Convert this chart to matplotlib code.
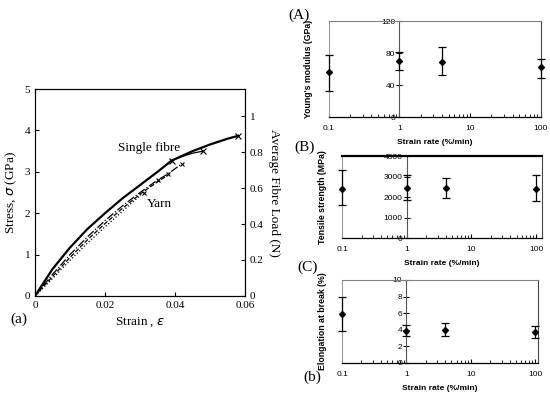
import matplotlib.pyplot as plt
import matplotlib.ticker as mticker

# ---- datos panel (a): esfuerzo-deformacion ----
fibra_strain = [0, 0.005, 0.01, 0.015, 0.02, 0.025, 0.03, 0.035, 0.039, 0.045, 0.05, 0.055, 0.058]
fibra_stress = [0, 0.65, 1.17, 1.62, 2.0, 2.36, 2.68, 3.0, 3.27, 3.5, 3.66, 3.8, 3.87]
rama_strain = [0.039, 0.042, 0.045, 0.048]
rama_stress = [3.27, 3.37, 3.45, 3.5]
hilo1_strain = [0, 0.005, 0.01, 0.015, 0.02, 0.025, 0.03, 0.035, 0.038, 0.042]
hilo1_stress = [0, 0.52, 1.0, 1.43, 1.82, 2.18, 2.5, 2.8, 2.95, 3.2]
hilo2_strain = [0, 0.005, 0.01, 0.015, 0.02, 0.025, 0.03, 0.035, 0.038]
hilo2_stress = [0, 0.47, 0.93, 1.36, 1.75, 2.12, 2.46, 2.76, 2.92]
hilo3_strain = [0, 0.005, 0.01, 0.015, 0.02, 0.025, 0.031]
hilo3_stress = [0, 0.42, 0.86, 1.28, 1.67, 2.05, 2.5]

# ---- datos paneles (A), (B), (C) ----
tasa = [0.1, 1, 4, 100]
modulo = [56, 70, 69, 62]
modulo_inf = [33, 59, 52, 49]
modulo_sup = [78, 81, 87, 73]
resistencia = [2400, 2450, 2450, 2400]
resistencia_inf = [1600, 1850, 1950, 1800]
resistencia_sup = [3300, 3050, 2950, 3050]
elongacion = [5.9, 3.9, 4.0, 3.7]
elongacion_inf = [3.9, 3.2, 3.2, 3.0]
elongacion_sup = [7.9, 4.6, 4.8, 4.5]

serif = "Liberation Serif"
sans = "Liberation Sans"

fig = plt.figure(figsize=(5.5, 3.98), dpi=100)

# ---------------- panel (a) ----------------
ax = fig.add_axes([0.0636, 0.2563, 0.382, 0.520])
ax.plot(fibra_strain, fibra_stress, color='black', lw=1.6)
ax.plot([fibra_strain[-1]], [fibra_stress[-1]], marker='x', color='black', ms=4, mew=0.8)
ax.plot(rama_strain, rama_stress, color='black', lw=0.9)
ax.plot([rama_strain[0], rama_strain[-1]], [rama_stress[0], rama_stress[-1]], 'x', color='black', ms=4, mew=0.8)
ax.plot(hilo1_strain, hilo1_stress, color='black', lw=0.9, ls='-.')
ax.plot(hilo1_strain[-3:], hilo1_stress[-3:], 'x', color='black', ms=3.5, mew=0.8)
ax.plot(hilo2_strain, hilo2_stress, color='black', lw=0.9, ls='--')
ax.plot(hilo3_strain, hilo3_stress, color='black', lw=0.9, ls=':')
ax.plot([hilo3_strain[-1]], [hilo3_stress[-1]], 'x', color='black', ms=3.5, mew=0.8)

ax.set_xlim(0, 0.06)
ax.set_ylim(0, 5)
ax.set_xticks([0, 0.02, 0.04, 0.06])
ax.set_xticklabels(["0", "0.02", "0.04", "0.06"])
ax.set_yticks([0, 1, 2, 3, 4, 5])
ax.tick_params(direction='in', labelsize=8, length=3)
for lbl in ax.get_xticklabels() + ax.get_yticklabels():
    lbl.set_fontfamily(serif)
ax.set_xlabel("Strain , $\\it{\\varepsilon}$", family=serif, fontsize=9.5, labelpad=4)
ax.set_ylabel("Stress, $\\it{\\sigma}$ (GPa)", family=serif, fontsize=9.5, labelpad=4)
ax.text(0.0237, 3.57, "Single fibre", family=serif, fontsize=9.5, va='center')
ax.text(0.032, 2.22, "Yarn", family=serif, fontsize=9.5, va='center')

ax2 = ax.twinx()
ax2.set_ylim(0, 1.15)
ax2.set_yticks([0, 0.2, 0.4, 0.6, 0.8, 1.0])
ax2.set_yticklabels(["0", "0.2", "0.4", "0.6", "0.8", "1"])
ax2.tick_params(direction='in', labelsize=8, length=3)
for lbl in ax2.get_yticklabels():
    lbl.set_fontfamily(serif)
ax2.set_ylabel("Average Fibre Load (N)", family=serif, fontsize=9.5, rotation=270, labelpad=12)

fig.text(19 / 550, 1 - 319 / 398, "(a)", family=serif, fontsize=11, va='center', ha='center')


# ---------------- paneles (A), (B), (C) ----------------
def panel(rect, y, inf, sup, ylim, yticks, ylabel, xmax, borde_sup='gray', lw_sup=0.8):
    a = fig.add_axes(rect)
    yerr = [[v - l for v, l in zip(y, inf)], [s - v for v, s in zip(y, sup)]]
    a.errorbar(tasa, y, yerr=yerr, fmt='D', color='black', ms=3, capsize=3,
               elinewidth=0.9, capthick=0.9, clip_on=False, zorder=5)
    a.set_xscale('log')
    a.set_xlim(0.1, xmax)
    a.set_ylim(*ylim)
    a.set_yticks(yticks)
    a.spines['left'].set_position(('data', 1))
    a.spines['left'].set_color('#555555')
    a.spines['left'].set_linewidth(0.8)
    a.spines['top'].set_color(borde_sup)
    a.spines['top'].set_linewidth(lw_sup)
    a.spines['right'].set_color('#444444')
    a.spines['bottom'].set_linewidth(0.9)
    a.axvline(0.1, color='#999999', lw=0.8)
    a.xaxis.set_major_locator(mticker.FixedLocator([0.1, 1, 10, 100]))
    a.xaxis.set_major_formatter(mticker.FixedFormatter(["0.1", "1", "10", "100"]))
    a.xaxis.set_minor_locator(mticker.LogLocator(subs=range(2, 10)))
    a.xaxis.set_minor_formatter(mticker.NullFormatter())
    a.tick_params(axis='x', which='both', direction='in', labelsize=6, length=3, pad=6)
    a.tick_params(axis='x', which='minor', length=2)
    a.tick_params(axis='y', direction='inout', labelsize=6, length=4, pad=1)
    for lbl in a.get_xticklabels() + a.get_yticklabels():
        lbl.set_fontfamily(sans)
    a.set_xlabel("Strain rate (%/min)", family=sans, fontsize=6, fontweight='bold', labelpad=5)
    a.set_ylabel(ylabel, family=sans, fontsize=6.3, fontweight='bold')
    a.yaxis.set_label_coords(-0.075, 0.5)
    return a


panel([0.598, 0.706, 0.385, 0.241], modulo, modulo_inf, modulo_sup, (0, 120),
      [0, 40, 80, 120], "Young's modulus (GPa)", 100)
panel([0.622, 0.402, 0.364, 0.206], resistencia, resistencia_inf, resistencia_sup, (0, 4000),
      [0, 1000, 2000, 3000, 4000], "Tensile strength (MPa)", 125, borde_sup='black', lw_sup=1.6)
panel([0.622, 0.088, 0.356, 0.2085], elongacion, elongacion_inf, elongacion_sup, (0, 10),
      [0, 2, 4, 6, 8, 10], "Elongation at break (%)", 110)

fig.text(299 / 550, 1 - 15 / 398, "(A)", family=serif, fontsize=11, va='center', ha='center')
fig.text(305 / 550, 1 - 147 / 398, "(B)", family=serif, fontsize=11, va='center', ha='center')
fig.text(308 / 550, 1 - 267 / 398, "(C)", family=serif, fontsize=11, va='center', ha='center')
fig.text(312 / 550, 1 - 377 / 398, "(b)", family=serif, fontsize=11, va='center', ha='center')

fig.savefig("out.png", dpi=100)
